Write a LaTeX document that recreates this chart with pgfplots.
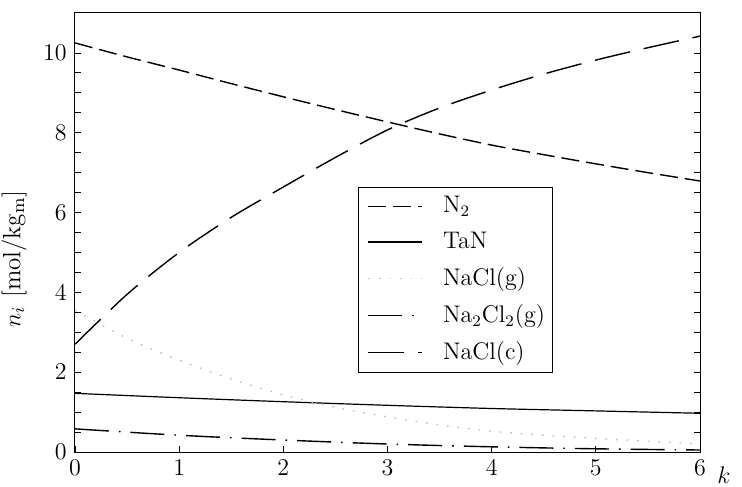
\documentclass[border=0pt]{standalone}
\usepackage{pgfplots}
\pgfplotsset{compat=1.18}
\begin{document}
\fontsize{12}{14}\selectfont
\begin{tikzpicture}
\useasboundingbox (-37.5pt,-17pt) rectangle (333.5pt,226pt);
\begin{axis}[
  scale only axis,
  width=312.5pt, height=219.5pt,
  xmin=0, xmax=6, ymin=0, ymax=11,
  xtick={0,1,2,3,4,5,6},
  ytick={0,2,4,6,8,10},
  minor y tick num=3,
  tick align=inside,
  xtick pos=bottom,
  ytick pos=both,
  major tick length=3pt, minor tick length=3pt,
  tick style={black, line width=0.4pt},
  axis line style={line width=0.5pt},
  every tick label/.append style={font=\fontsize{12}{14}\selectfont},
  xlabel={$k$},
  xlabel style={at={(axis description cs:1,0)}, anchor=north west, xshift=4.5pt, yshift=-3pt},
  ylabel={$n_i$ [mol/kg$_{\mathrm{m}}$]},
  ylabel style={at={(ticklabel cs:0.44)}, font=\fontsize{12.5}{14}\selectfont},
  legend style={at={(0.453,0.604)}, anchor=north west, draw=black, line width=0.5pt,
    font=\fontsize{12}{14}\selectfont, row sep=3.8pt, inner xsep=0pt, inner ysep=2.5pt,
    nodes={inner xsep=4pt}},
  legend cell align=left,
  legend image code/.code={\path (0pt,0pt) (37.5pt,0pt); \draw[#1] (4.5pt,0pt) -- (31.5pt,0pt);},
]
\addplot[black, line width=0.7pt, dash pattern=on 9pt off 3.5pt, smooth] coordinates {
(0,10.25) (0.5,9.9) (1,9.57) (1.5,9.23) (2,8.9) (2.5,8.58) (3,8.27) (3.5,7.97) (4,7.69) (4.5,7.45) (5,7.22) (5.5,7.0) (6,6.79)};
\addlegendentry{N$_2$}
\addplot[black, line width=0.6pt, smooth] coordinates {
(0,1.47) (1,1.36) (2,1.26) (3,1.17) (4,1.09) (5,1.03) (6,0.97)};
\addlegendentry{TaN}
\addplot[black!25, line width=0.7pt, dash pattern=on 0.8pt off 4.5pt, smooth] coordinates {
(0,3.55) (0.5,2.85) (1,2.3) (1.5,1.83) (2,1.43) (2.5,1.12) (3,0.88) (3.5,0.68) (4,0.52) (4.5,0.42) (5,0.34) (5.5,0.27) (6,0.2)};
\addlegendentry{NaCl(g)}
\addplot[black, line width=0.7pt, dash pattern=on 17pt off 5pt on 0.8pt off 5pt, smooth] coordinates {
(0,0.58) (1,0.42) (2,0.3) (3,0.2) (4,0.13) (5,0.08) (6,0.05)};
\addlegendentry{Na$_2$Cl$_2$(g)}
\addplot[black, line width=0.7pt, dash pattern=on 18pt off 7pt, smooth] coordinates {
(0,2.7) (0.5,3.95) (1,5.0) (1.5,5.88) (2,6.64) (2.5,7.38) (3,8.07) (3.5,8.62) (4,9.07) (4.5,9.47) (5,9.82) (5.5,10.13) (6,10.42)};
\addlegendentry{NaCl(c)}
\end{axis}
\end{tikzpicture}
\end{document}
